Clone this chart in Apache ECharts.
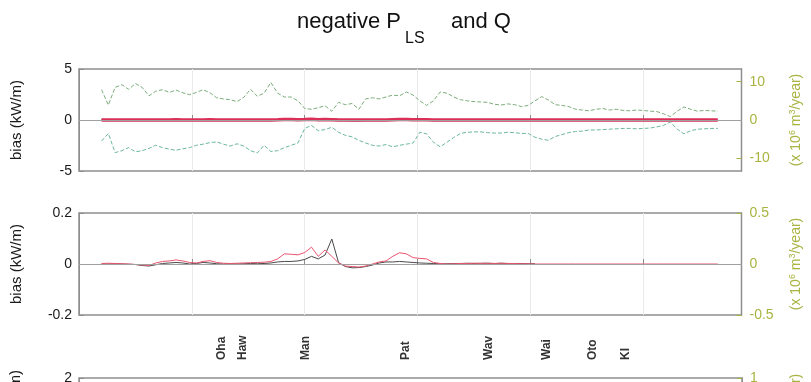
<!DOCTYPE html>
<html>
<head>
<meta charset="utf-8">
<script src="https://cdn.jsdelivr.net/npm/echarts@6/dist/echarts.min.js"></script>
<style>
  html, body { margin: 0; padding: 0; background: #ffffff; }
  #chart { width: 811px; height: 382px; }
</style>
</head>
<body>
<div id="chart"></div>
<script>
// Alongshore position of each sample (km)
const km = [20, 26, 32, 38, 44, 50, 56, 62, 68, 74, 80, 86, 92, 98, 104, 110, 116, 122, 128, 134,
            140, 146, 152, 158, 164, 170, 176, 182, 188, 194, 200, 206, 212, 218, 224, 230, 236, 242, 248, 254,
            260, 266, 272, 278, 284, 290, 296, 302, 308, 314, 320, 326, 332, 338, 344, 350, 356, 362, 368, 374,
            380, 386, 392, 398, 404, 410, 416, 422, 428, 434, 440, 446, 452, 458, 464, 470, 476, 482, 488, 494,
            500, 506, 512, 518, 524, 530, 536, 542, 548, 554, 560, 566];

// Bias of P_LS (kW/m), red
const biasP = [0.002, 0.003, 0.002, 0.001, 0.000, -0.002, -0.004, -0.006, 0.004, 0.010, 0.012, 0.016, 0.012, 0.006, 0.004, 0.010, 0.013, 0.006, 0.003, 0.002,
               0.003, 0.004, 0.005, 0.006, 0.007, 0.010, 0.020, 0.040, 0.038, 0.036, 0.045, 0.066, 0.030, 0.055, 0.030, 0.004, -0.008, -0.010, -0.012, -0.008,
               0.000, 0.008, 0.012, 0.030, 0.044, 0.040, 0.025, 0.022, 0.020, 0.006, 0.002, 0.000, 0.001, 0.002, 0.002, 0.003, 0.002, 0.003, 0.002, 0.003,
               0.002, 0.002, 0.001, 0.001, 0.000, 0.000, 0.000, 0.000, 0.000, 0.000, 0.000, 0.000, 0.000, 0.000, 0.000, 0.000, 0.000, 0.000, 0.000, 0.000,
               0.000, 0.000, 0.000, 0.000, 0.000, 0.000, 0.000, 0.000, 0.000, 0.000, 0.000, 0.000];

// Bias of the reference run (kW/m), black
const biasRef = [0.000, 0.000, 0.001, 0.000, -0.001, -0.002, -0.006, -0.008, -0.003, 0.002, 0.004, 0.006, 0.004, 0.000, 0.002, 0.006, 0.004, 0.001, 0.000, 0.001,
                 0.000, 0.001, 0.002, 0.001, 0.002, 0.004, 0.008, 0.010, 0.010, 0.012, 0.018, 0.030, 0.020, 0.035, 0.098, 0.005, -0.010, -0.015, -0.014, -0.010,
                 -0.004, 0.004, 0.008, 0.008, 0.010, 0.008, 0.006, 0.004, 0.003, 0.002, 0.001, 0.001, 0.002, 0.002, 0.003, 0.002, 0.003, 0.003, 0.002, 0.003,
                 0.002, 0.002, 0.002, 0.001, 0.001, null, null, null, null, null, null, null, null, null, null, null, null, null, null, null,
                 null, null, null, null, null, null, null, null, null, null, null, null];

// Transport envelope Q (x 10^6 m^3/year), green dashed
const qUpper = [7.9, 3.9, 8.5, 9.2, 8.0, 9.5, 8.5, 6.3, 7.5, 7.9, 7.2, 7.8, 7.1, 6.6, 7.2, 7.9, 7.1, 5.8, 5.5, 5.3,
                4.8, 5.9, 8.0, 6.2, 7.0, 9.8, 7.0, 6.0, 6.0, 5.0, 3.0, 2.8, 3.2, 3.7, 2.3, 4.6, 4.0, 4.3, 2.8, 5.5,
                5.8, 5.5, 6.0, 6.5, 6.3, 7.3, 6.5, 5.0, 3.8, 5.0, 7.3, 7.0, 6.0, 5.3, 5.0, 4.8, 4.7, 4.6, 4.1, 3.9,
                4.2, 4.0, 3.5, 3.8, 5.0, 6.1, 5.2, 4.0, 3.8, 3.5, 2.8, 2.6, 2.4, 2.8, 3.0, 2.6, 2.8, 2.5, 2.4, 2.6,
                2.5, 2.3, 2.2, 1.6, 0.9, 2.3, 3.4, 2.8, 2.3, 2.5, 2.4, 2.3];
const qLower = [-5.5, -3.5, -8.5, -8.0, -7.2, -8.3, -8.0, -7.4, -6.6, -7.2, -7.6, -7.9, -7.5, -7.2, -6.6, -6.3, -5.9, -5.7, -6.3, -6.8,
                -6.2, -6.8, -8.0, -8.6, -6.6, -8.2, -8.0, -7.2, -6.6, -6.0, -2.2, -1.4, -2.8, -2.5, -1.9, -3.2, -4.0, -4.4, -5.3, -6.0,
                -6.6, -6.8, -6.4, -7.0, -6.6, -6.3, -6.0, -3.2, -3.6, -5.8, -7.0, -5.8, -4.6, -3.5, -3.2, -3.1, -3.1, -3.3, -3.4, -3.4,
                -3.2, -3.3, -3.5, -3.5, -4.5, -5.0, -5.3, -4.3, -3.8, -3.3, -3.0, -2.9, -2.6, -2.6, -2.5, -2.4, -2.3, -2.2, -2.2, -2.3,
                -2.2, -2.1, -1.8, -1.4, -0.5, -2.4, -3.6, -2.8, -2.4, -2.3, -2.2, -2.2];

// Station markers along the coast
const stationKm = [126, 145, 201, 289, 363, 414, 455, 484];
const stationNames = ['Oha', 'Haw', 'Man', 'Pat', 'Wav', 'Wai', 'Oto', 'KI'];

// Axis tick values
const leftTicks1 = [-5, 0, 5];
const rightTicks1 = [-10, 0, 10];
const leftTicks2 = [-0.2, 0, 0.2];
const rightTicks2 = [-0.5, 0, 0.5];
const leftTicks3 = [2];
const rightTicks3 = [1];

const FONT = '"Liberation Sans", Arial, sans-serif';
const GRAY = '#8e8e8e';
const OLIVE = '#a9b440';
const BIAS_NAME = 'bias (kW/m)';
const Q_NAME = '(x 10{s|6} m{s|3}/year)';
const pair = arr => km.map((k, i) => [k, arr[i]]);

const chart = echarts.init(document.getElementById('chart'), null, { renderer: 'canvas' });

function xAxisFor(gi) {
  return {
    type: 'value', gridIndex: gi, min: 0, max: 587, interval: 100,
    axisLine: { show: false },
    axisTick: { show: true, inside: true, length: 5, lineStyle: { color: GRAY } },
    axisLabel: { show: false },
    splitLine: { show: true, lineStyle: { color: '#ebebeb', width: 1 } }
  };
}

function leftAxis(gi, min, max, ticks, name) {
  return {
    type: 'value', gridIndex: gi, position: 'left', min: min, max: max,
    axisLine: { show: true, lineStyle: { color: GRAY } },
    axisTick: { show: true, inside: true, length: 5, customValues: ticks, lineStyle: { color: GRAY } },
    axisLabel: { customValues: ticks, color: '#1a1a1a', fontSize: 14, fontFamily: FONT, margin: 7, hideOverlap: false },
    splitLine: { show: false },
    name: name, nameLocation: 'middle', nameRotate: 90, nameGap: 55,
    nameTextStyle: { color: '#1a1a1a', fontSize: 15, fontFamily: FONT }
  };
}

const supRich = { s: { fontSize: 9, color: OLIVE, fontFamily: FONT, verticalAlign: 'top', padding: [0, 0, 6, 0] } };

function rightAxis(gi, min, max, ticks, name) {
  return {
    type: 'value', gridIndex: gi, position: 'right', min: min, max: max,
    axisLine: { show: true, lineStyle: { color: GRAY } },
    axisTick: { show: true, inside: true, length: 5, customValues: ticks, lineStyle: { color: OLIVE } },
    axisLabel: { customValues: ticks, color: OLIVE, fontSize: 14, fontFamily: FONT, margin: 8, hideOverlap: false },
    splitLine: { show: false },
    name: name, nameLocation: 'middle', nameRotate: 90, nameGap: 47,
    nameTextStyle: { color: OLIVE, fontSize: 14, fontFamily: FONT, rich: supRich }
  };
}

const zeroLine = {
  silent: true, symbol: 'none',
  label: { show: false },
  lineStyle: { color: '#a0a0a0', width: 1, type: 'solid' },
  data: [{ yAxis: 0 }]
};

const option = {
  animation: false,
  backgroundColor: '#ffffff',
  graphic: [
    // title with subscript
    { type: 'text', left: 297, top: 11, style: { text: 'negative P', font: '22px ' + FONT, fill: '#111' } },
    { type: 'text', left: 405, top: 31, style: { text: 'LS', font: '16px ' + FONT, fill: '#111' } },
    { type: 'text', left: 451, top: 11, style: { text: 'and Q', font: '22px ' + FONT, fill: '#111' } },
    // axis titles of the lowest panel, which runs past the bottom edge
    { type: 'text', x: 16, y: 410, rotation: Math.PI / 2,
      style: { text: BIAS_NAME, font: '15px ' + FONT, fill: '#1a1a1a', align: 'center', verticalAlign: 'middle' } },
    { type: 'text', x: 796, y: 420, rotation: Math.PI / 2,
      style: { text: Q_NAME, font: '14px ' + FONT, fill: OLIVE, align: 'center', verticalAlign: 'middle', rich: supRich } }
  ],
  grid: [
    { left: 79, right: 69, top: 69, height: 102, show: true, borderColor: GRAY, borderWidth: 1.5, backgroundColor: 'transparent' },
    { left: 79, right: 69, top: 213, height: 102, show: true, borderColor: GRAY, borderWidth: 1.5, backgroundColor: 'transparent' },
    { left: 79, right: 69, top: 378, height: 100, show: true, borderColor: GRAY, borderWidth: 1.5, backgroundColor: 'transparent' }
  ],
  xAxis: [
    xAxisFor(0),
    xAxisFor(1),
    {
      type: 'value', gridIndex: 2, position: 'top', min: 0, max: 587,
      axisLine: { show: false },
      axisTick: { show: true, inside: true, length: 5, customValues: stationKm, lineStyle: { color: '#555' } },
      axisLabel: {
        customValues: stationKm, rotate: 90, margin: 18, fontSize: 12, fontWeight: 'bold', color: '#333', fontFamily: FONT,
        formatter: v => stationNames[stationKm.indexOf(v)]
      },
      splitLine: { show: false }
    }
  ],
  yAxis: [
    leftAxis(0, -5, 5, leftTicks1, BIAS_NAME),
    rightAxis(0, -13.3, 13.3, rightTicks1, Q_NAME),
    leftAxis(1, -0.2, 0.2, leftTicks2, BIAS_NAME),
    rightAxis(1, -0.5, 0.5, rightTicks2, Q_NAME),
    leftAxis(2, -2, 2, leftTicks3, ''),
    rightAxis(2, -1, 1, rightTicks3, '')
  ],
  series: [
    // upper panel
    { type: 'line', xAxisIndex: 0, yAxisIndex: 0, data: pair(biasRef), showSymbol: false, connectNulls: false,
      lineStyle: { color: '#3a1a22', width: 2 }, itemStyle: { color: '#3a1a22' }, markLine: zeroLine, z: 2 },
    { type: 'line', xAxisIndex: 0, yAxisIndex: 0, data: pair(biasP), showSymbol: false,
      lineStyle: { color: '#dc2f58', width: 3.5 }, itemStyle: { color: '#dc2f58' }, z: 3 },
    { type: 'line', xAxisIndex: 0, yAxisIndex: 1, data: pair(qUpper), showSymbol: false,
      lineStyle: { color: '#7cad7c', width: 1, type: [4, 2] }, itemStyle: { color: '#7cad7c' }, z: 4 },
    { type: 'line', xAxisIndex: 0, yAxisIndex: 1, data: pair(qLower), showSymbol: false,
      lineStyle: { color: '#6cb89c', width: 1, type: [4, 2] }, itemStyle: { color: '#6cb89c' }, z: 4 },
    // middle panel
    { type: 'line', xAxisIndex: 1, yAxisIndex: 2, data: pair(biasRef), showSymbol: false, connectNulls: false,
      lineStyle: { color: '#4a4a4a', width: 1 }, itemStyle: { color: '#4a4a4a' }, markLine: zeroLine, z: 2 },
    { type: 'line', xAxisIndex: 1, yAxisIndex: 2, data: pair(biasP), showSymbol: false,
      lineStyle: { color: '#ea5470', width: 1 }, itemStyle: { color: '#ea5470' }, z: 3 }
  ]
};

chart.setOption(option);
</script>
</body>
</html>
